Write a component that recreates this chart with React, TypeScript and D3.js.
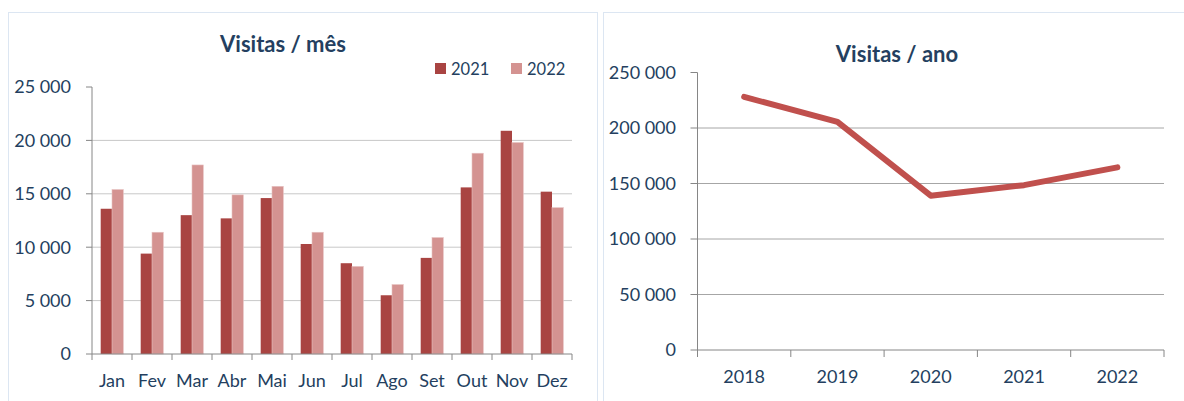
import React from "react";
import * as d3 from "d3";

// monthly visits, two years
const months = ["Jan", "Fev", "Mar", "Abr", "Mai", "Jun", "Jul", "Ago", "Set", "Out", "Nov", "Dez"];
const series = ["2021", "2022"];
const visits2021 = [13600, 9400, 13000, 12700, 14600, 10300, 8500, 5500, 9000, 15600, 20900, 15200];
const visits2022 = [15400, 11400, 17700, 14900, 15700, 11400, 8200, 6500, 10900, 18800, 19800, 13700];
const monthTicks = [0, 5000, 10000, 15000, 20000, 25000];

// yearly visits
const years = ["2018", "2019", "2020", "2021", "2022"];
const yearVisits = [228000, 205500, 139000, 148500, 164500];
const yearTicks = [0, 50000, 100000, 150000, 200000, 250000];

const colors = { "2021": "#a94442", "2022": "#d49391" };
const txt = "#243f60";
const font = "Lato, 'Noto Sans', sans-serif";

const fmt = d3.formatLocale({ decimal: ",", thousands: " ", grouping: [3], currency: ["", "€"] }).format(",");

function MonthChart() {
  const left = 92, right = 572, top = 87, bottom = 354;
  const xCat = d3.scaleBand<string>().domain(months).range([left, right]);
  const x0 = d3.scaleBand<string>().domain(months).range([left, right]).paddingInner(0.435).paddingOuter(0.2175);
  const x1 = d3.scaleBand<string>().domain(series).range([0, x0.bandwidth()]);
  const y = d3.scaleLinear().domain([0, 25000]).range([bottom, top]);
  const data: Record<string, number[]> = { "2021": visits2021, "2022": visits2022 };
  const step = xCat.step();

  return (
    <g>
      <rect x={8.5} y={12.5} width={589} height={400} fill="#fff" stroke="#dce6f2" />
      <text x={283} y={52} textAnchor="middle" fontSize={22} fontWeight="bold" fill={txt}>Visitas / mês</text>
      {series.map((s, i) => (
        <g key={s} transform={`translate(${435 + i * 76},63)`}>
          <rect width={11} height={11} fill={colors[s]} />
          <text x={16} y={11.5} fontSize={16.5} fill={txt}>{s}</text>
        </g>
      ))}
      {monthTicks.filter((t) => t > 0 && t < 25000).map((t) => (
        <line key={t} x1={left} x2={right} y1={y(t)} y2={y(t)} stroke="#c8c8c8" />
      ))}
      {series.map((s) =>
        months.map((m, i) => (
          <rect key={s + m} x={(x0(m) ?? 0) + (x1(s) ?? 0)} y={y(data[s][i])}
            width={x1.bandwidth()} height={bottom - y(data[s][i])} fill={colors[s]}
            stroke={s === "2022" ? "#e6c2c1" : "none"} strokeWidth={0.6} />
        ))
      )}
      <line x1={left} x2={left} y1={top} y2={bottom} stroke="#868686" />
      <line x1={left} x2={right} y1={bottom} y2={bottom} stroke="#868686" />
      {monthTicks.map((t) => (
        <g key={t}>
          <line x1={left - 6} x2={left} y1={y(t)} y2={y(t)} stroke="#868686" />
          <text x={71} y={y(t)} dy="0.36em" textAnchor="end" fontSize={18} fill={txt}>{fmt(t)}</text>
        </g>
      ))}
      {months.map((m, i) => (
        <line key={m} x1={left + i * step} x2={left + i * step} y1={bottom} y2={bottom + 6} stroke="#868686" />
      ))}
      <line x1={right} x2={right} y1={bottom} y2={bottom + 6} stroke="#868686" />
      {months.map((m) => (
        <text key={m} x={(xCat(m) ?? 0) + step / 2} y={387} textAnchor="middle" fontSize={18} fill={txt}>{m}</text>
      ))}
    </g>
  );
}

function YearChart() {
  const left = 697.5, right = 1164, top = 72.5, bottom = 350;
  const x = d3.scaleBand<string>().domain(years).range([left, right]);
  const y = d3.scaleLinear().domain([0, 250000]).range([bottom, top]);
  const line = d3.line<number>()
    .x((_, i) => (x(years[i]) ?? 0) + x.bandwidth() / 2)
    .y((d) => y(d));

  return (
    <g>
      <rect x={603.5} y={12.5} width={600} height={400} fill="#fff" stroke="#dce6f2" />
      <text x={897} y={62} textAnchor="middle" fontSize={22} fontWeight="bold" fill={txt}>Visitas / ano</text>
      {yearTicks.filter((t) => t > 0 && t < 250000).map((t) => (
        <line key={t} x1={left} x2={right} y1={y(t)} y2={y(t)} stroke="#a6a6a6" />
      ))}
      <line x1={left} x2={left} y1={top} y2={bottom} stroke="#868686" />
      <line x1={left} x2={right} y1={bottom} y2={bottom} stroke="#868686" />
      {yearTicks.map((t) => (
        <g key={t}>
          <line x1={left - 7} x2={left} y1={y(t)} y2={y(t)} stroke="#868686" />
          <text x={676} y={y(t)} dy="0.36em" textAnchor="end" fontSize={18} fill={txt}>{fmt(t)}</text>
        </g>
      ))}
      {years.map((yr, i) => (
        <line key={yr} x1={left + i * x.step()} x2={left + i * x.step()} y1={bottom} y2={bottom + 7} stroke="#868686" />
      ))}
      <line x1={right} x2={right} y1={bottom} y2={bottom + 7} stroke="#868686" />
      {years.map((yr) => (
        <text key={yr} x={(x(yr) ?? 0) + x.bandwidth() / 2} y={383} textAnchor="middle" fontSize={18} fill={txt}>{yr}</text>
      ))}
      <path d={line(yearVisits) ?? ""} fill="none" stroke="#c0504d" strokeWidth={6} strokeLinecap="round" strokeLinejoin="round" />
    </g>
  );
}

export default function App() {
  return (
    <svg width={1184} height={401} style={{ position: "absolute", left: 0, top: 0, background: "#fff" }} fontFamily={font}>
      <rect width={1184} height={401} fill="#fff" />
      <MonthChart />
      <YearChart />
    </svg>
  );
}
